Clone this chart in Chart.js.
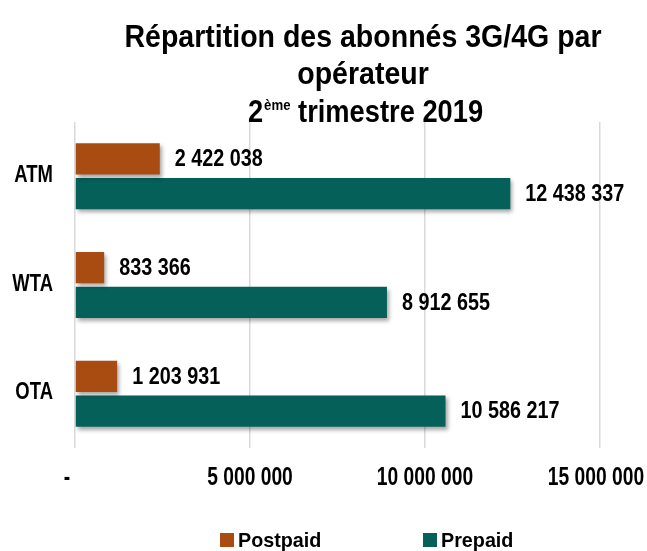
<!DOCTYPE html>
<html>
<head>
<meta charset="utf-8">
<script src="https://cdn.jsdelivr.net/npm/chart.js@4.4.1/dist/chart.umd.min.js"></script>
<style>
  html, body { margin: 0; padding: 0; background: #fff; }
  #wrap { width: 647px; height: 551px; }
</style>
</head>
<body>
<div id="wrap"><canvas id="barChart" width="647" height="551"></canvas></div>
<script>
var FONT = "'Liberation Sans', Arial, sans-serif";

var operators = ['ATM', 'WTA', 'OTA'];
var postpaid = [2422038, 833366, 1203931];
var prepaid = [12438337, 8912655, 10586217];
var xTicks = [0, 5000000, 10000000, 15000000];

function fmt(v) {
    if (v === 0) return '-';
    return String(v).replace(/\B(?=(\d{3})+(?!\d))/g, ' ');
}

// narrow bold text: Arial Narrow is not installed, so squeeze Liberation Sans
function narrowText(ctx, txt, x, y, size, sx, align, base) {
    ctx.save();
    ctx.font = 'bold ' + size + 'px ' + FONT;
    ctx.textAlign = align || 'left';
    ctx.textBaseline = base || 'alphabetic';
    ctx.translate(x, y);
    ctx.scale(sx, 1);
    ctx.fillText(txt, 0, 0);
    ctx.restore();
}
function narrowWidth(ctx, txt, size, sx) {
    ctx.save();
    ctx.font = 'bold ' + size + 'px ' + FONT;
    var w = ctx.measureText(txt).width * sx;
    ctx.restore();
    return w;
}

// ===== TITLE (with superscript) =====
var titlePlugin = {
    id: 'titleDraw',
    afterDraw: function (chart) {
        var ctx = chart.ctx;
        var cx = 363, sx = 0.92;
        ctx.fillStyle = '#000';
        narrowText(ctx, 'Répartition des abonnés 3G/4G par', cx, 47, 31, sx, 'center');
        narrowText(ctx, 'opérateur', cx, 84, 31, sx, 'center');

        var w1 = narrowWidth(ctx, '2', 31, 0.88);
        var w2 = narrowWidth(ctx, 'ème', 15, 0.88);
        var w3 = narrowWidth(ctx, ' trimestre 2019', 31, 0.88);
        var x = cx + 2 - (w1 + w2 + w3) / 2;
        narrowText(ctx, '2', x, 122, 31, 0.88);
        narrowText(ctx, 'ème', x + w1 + 1, 110, 15, 0.88);
        narrowText(ctx, ' trimestre 2019', x + w1 + w2 + 1, 122, 31, 0.88);
    }
};

// ===== AXIS LABELS (placed from the library scales) =====
var axisLabels = {
    id: 'axisLabels',
    afterDraw: function (chart) {
        var ctx = chart.ctx;
        var xs = chart.scales.x, ys = chart.scales.y;
        ctx.fillStyle = '#000';
        xTicks.forEach(function (v, i) {
            var px = xs.getPixelForValue(v);
            if (v === 0) px -= 8;
            if (i === xTicks.length - 1) px -= 4;
            narrowText(ctx, fmt(v), px, 478, 25, 0.77, 'center', 'middle');
        });
        operators.forEach(function (name, i) {
            narrowText(ctx, name, 53, ys.getPixelForTick(i) - 1, 24, 0.77, 'right', 'middle');
        });
    }
};

// ===== BAR SHADOW + VALUE LABELS =====
var barExtras = {
    id: 'barExtras',
    beforeDatasetsDraw: function (chart) {
        var ctx = chart.ctx;
        ctx.save();
        ctx.shadowColor = 'rgba(0,0,0,0.35)';
        ctx.shadowBlur = 4;
        ctx.shadowOffsetX = 2;
        ctx.shadowOffsetY = 3;
    },
    afterDatasetsDraw: function (chart) {
        var ctx = chart.ctx;
        ctx.restore();
        ctx.fillStyle = '#000';
        chart.data.datasets.forEach(function (ds, i) {
            chart.getDatasetMeta(i).data.forEach(function (bar, j) {
                narrowText(ctx, fmt(ds.data[j]), bar.x + 15, bar.y + 1, 23, 0.86, 'left', 'middle');
            });
        });
    }
};

// ===== LEGEND =====
var legendPlugin = {
    id: 'legendDraw',
    afterDraw: function (chart) {
        var ctx = chart.ctx;
        var xs = [220, 423];
        chart.data.datasets.forEach(function (ds, i) {
            ctx.fillStyle = ds.backgroundColor;
            ctx.fillRect(xs[i], 533, 14, 14);
            ctx.fillStyle = '#000';
            narrowText(ctx, ds.label, xs[i] + 18, 547, 21, 0.94, 'left');
        });
    }
};

var ctx = document.getElementById('barChart').getContext('2d');
new Chart(ctx, {
    type: 'bar',
    data: {
        labels: operators,
        datasets: [{
            label: 'Postpaid',
            data: postpaid,
            backgroundColor: '#A94C12',
            categoryPercentage: 0.64,
            barPercentage: 0.9
        }, {
            label: 'Prepaid',
            data: prepaid,
            backgroundColor: '#046059',
            categoryPercentage: 0.64,
            barPercentage: 0.9
        }]
    },
    options: {
        indexAxis: 'y',
        responsive: false,
        animation: false,
        layout: { padding: { top: 122, right: 47, left: 0, bottom: 0 } },
        plugins: {
            legend: { display: false },
            title: { display: false },
            tooltip: { enabled: false }
        },
        scales: {
            x: {
                min: 0, max: 15000000,
                afterBuildTicks: function (scale) {
                    scale.ticks = xTicks.map(function (v) { return { value: v }; });
                },
                afterFit: function (scale) { scale.height = 103; },
                ticks: { display: false },
                grid: { color: '#d9d9d9', lineWidth: 1.5, drawTicks: false },
                border: { display: false }
            },
            y: {
                afterFit: function (scale) { scale.width = 75; },
                ticks: { display: false },
                grid: { display: false },
                border: { display: false }
            }
        }
    },
    plugins: [titlePlugin, barExtras, axisLabels, legendPlugin]
});
</script>
</body>
</html>
